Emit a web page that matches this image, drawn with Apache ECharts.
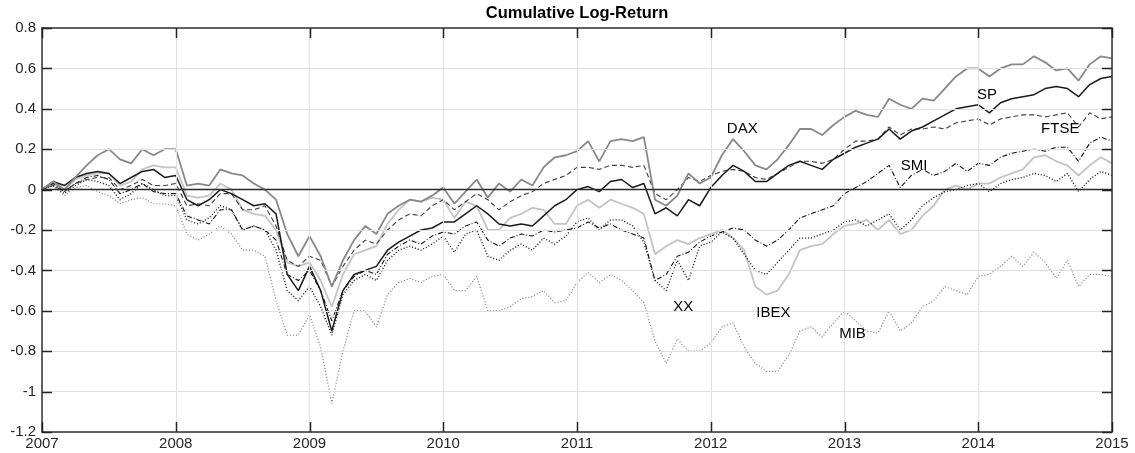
<!DOCTYPE html>
<html><head><meta charset="utf-8">
<script src="https://cdn.jsdelivr.net/npm/echarts@6/dist/echarts.min.js"></script>
<style>html,body{margin:0;padding:0;background:#fff}#c{width:1135px;height:453px}</style>
</head><body><div id="c"></div>
<script>
// ---- data (cumulative log-return, sampled at the start of each month, Jan 2007 .. Jan 2015) ----
const START_YEAR = 2007, END_YEAR = 2015, STEPS_PER_YEAR = 12;
const TITLE = 'Cumulative Log-Return';
const X_TICKS = [2007, 2008, 2009, 2010, 2011, 2012, 2013, 2014, 2015];
const Y_TICKS = [-1.2, -1, -0.8, -0.6, -0.4, -0.2, 0, 0.2, 0.4, 0.6, 0.8];

const DAX = [
  0.00, 0.04, 0.00, 0.06, 0.12, 0.17, 0.20, 0.15, 0.13, 0.20, 0.17, 0.20,
  0.20, 0.02, 0.03, 0.02, 0.10, 0.08, 0.07, 0.03, 0.00, -0.05, -0.22, -0.33,
  -0.23, -0.33, -0.48, -0.35, -0.25, -0.18, -0.22, -0.12, -0.08, -0.05, -0.06, -0.03,
  0.01, -0.07, -0.01, 0.05, -0.04, 0.03, -0.01, 0.05, 0.02, 0.11, 0.16, 0.17,
  0.19, 0.24, 0.14, 0.24, 0.25, 0.24, 0.26, -0.05, -0.08, -0.03, 0.08, 0.03,
  0.06, 0.17, 0.25, 0.19, 0.12, 0.10, 0.15, 0.22, 0.30, 0.30, 0.27, 0.32,
  0.36, 0.39, 0.37, 0.36, 0.45, 0.42, 0.40, 0.45, 0.44, 0.50, 0.56, 0.60,
  0.60, 0.56, 0.60, 0.62, 0.62, 0.66, 0.63, 0.59, 0.60, 0.54, 0.62, 0.66,
  0.65
];
const SP = [
  0.00, 0.04, 0.02, 0.06, 0.08, 0.09, 0.08, 0.03, 0.06, 0.09, 0.10, 0.06,
  0.07, -0.05, -0.08, -0.05, 0.00, -0.02, -0.05, -0.08, -0.07, -0.12, -0.42, -0.50,
  -0.38, -0.50, -0.70, -0.50, -0.42, -0.40, -0.38, -0.30, -0.26, -0.23, -0.20, -0.19,
  -0.16, -0.16, -0.12, -0.08, -0.12, -0.17, -0.18, -0.17, -0.18, -0.13, -0.08, -0.05,
  0.00, 0.015, -0.01, 0.04, 0.05, 0.01, 0.03, -0.12, -0.09, -0.13, -0.05, -0.08,
  0.01, 0.07, 0.12, 0.09, 0.04, 0.04, 0.08, 0.12, 0.14, 0.12, 0.10, 0.15,
  0.18, 0.21, 0.23, 0.25, 0.30, 0.25, 0.29, 0.31, 0.34, 0.37, 0.40, 0.41,
  0.42, 0.38, 0.43, 0.45, 0.46, 0.47, 0.50, 0.51, 0.50, 0.46, 0.52, 0.55,
  0.56
];
const FTSE = [
  0.00, 0.02, -0.01, 0.03, 0.05, 0.06, 0.06, 0.00, 0.02, 0.05, 0.02, 0.02,
  0.03, -0.08, -0.07, -0.08, -0.02, -0.02, -0.10, -0.10, -0.08, -0.18, -0.35, -0.38,
  -0.33, -0.35, -0.48, -0.38, -0.30, -0.25, -0.27, -0.20, -0.15, -0.12, -0.13, -0.08,
  -0.05, -0.10, -0.06, -0.02, -0.05, -0.10, -0.06, -0.03, -0.01, 0.03, 0.05, 0.07,
  0.11, 0.11, 0.10, 0.12, 0.12, 0.11, 0.12, -0.02, -0.05, 0.00, 0.06, 0.04,
  0.07, 0.09, 0.10, 0.09, 0.06, 0.05, 0.08, 0.11, 0.14, 0.14, 0.13, 0.15,
  0.20, 0.24, 0.24, 0.25, 0.31, 0.27, 0.30, 0.30, 0.31, 0.30, 0.33, 0.34,
  0.35, 0.32, 0.35, 0.36, 0.37, 0.37, 0.36, 0.37, 0.38, 0.31, 0.38, 0.35,
  0.36
];
const SMI = [
  0.00, 0.03, -0.01, 0.03, 0.06, 0.07, 0.05, -0.02, 0.00, 0.03, -0.01, -0.02,
  -0.02, -0.13, -0.15, -0.17, -0.10, -0.10, -0.20, -0.18, -0.20, -0.25, -0.42, -0.45,
  -0.40, -0.50, -0.65, -0.50, -0.43, -0.40, -0.42, -0.32, -0.28, -0.25, -0.27, -0.23,
  -0.21, -0.22, -0.18, -0.16, -0.25, -0.28, -0.24, -0.22, -0.23, -0.20, -0.21, -0.20,
  -0.19, -0.16, -0.19, -0.17, -0.20, -0.22, -0.24, -0.45, -0.42, -0.33, -0.31, -0.26,
  -0.23, -0.21, -0.19, -0.20, -0.25, -0.28, -0.25, -0.20, -0.14, -0.12, -0.10, -0.08,
  -0.02, 0.01, 0.04, 0.08, 0.12, 0.01, 0.07, 0.10, 0.07, 0.09, 0.13, 0.09,
  0.13, 0.12, 0.16, 0.18, 0.19, 0.20, 0.19, 0.21, 0.21, 0.14, 0.23, 0.26,
  0.24
];
const IBEX = [
  0.00, 0.03, 0.00, 0.05, 0.07, 0.08, 0.08, 0.02, 0.04, 0.10, 0.12, 0.11,
  0.11, -0.03, -0.04, -0.03, 0.03, 0.00, -0.10, -0.12, -0.13, -0.20, -0.36, -0.38,
  -0.36, -0.45, -0.58, -0.42, -0.32, -0.30, -0.28, -0.17, -0.10, -0.05, -0.06, -0.04,
  -0.05, -0.14, -0.06, -0.08, -0.20, -0.20, -0.14, -0.12, -0.09, -0.10, -0.17, -0.17,
  -0.08, -0.05, -0.09, -0.05, -0.07, -0.09, -0.12, -0.32, -0.28, -0.25, -0.27, -0.24,
  -0.22, -0.20, -0.24, -0.30, -0.48, -0.52, -0.50, -0.42, -0.30, -0.28, -0.27, -0.22,
  -0.18, -0.17, -0.15, -0.20, -0.15, -0.22, -0.20, -0.13, -0.08, 0.00, 0.02, 0.00,
  0.03, 0.03, 0.06, 0.08, 0.10, 0.16, 0.17, 0.14, 0.12, 0.07, 0.12, 0.16,
  0.13
];
const XX = [
  0.00, 0.02, -0.02, 0.02, 0.05, 0.04, 0.02, -0.05, -0.02, 0.03, 0.00, -0.03,
  -0.03, -0.15, -0.17, -0.14, -0.08, -0.10, -0.20, -0.18, -0.20, -0.30, -0.50, -0.55,
  -0.48, -0.58, -0.72, -0.52, -0.45, -0.42, -0.45, -0.35, -0.30, -0.28, -0.30, -0.27,
  -0.23, -0.31, -0.22, -0.20, -0.33, -0.35, -0.30, -0.27, -0.30, -0.24, -0.27, -0.23,
  -0.16, -0.14, -0.20, -0.15, -0.15, -0.18, -0.26, -0.45, -0.50, -0.35, -0.45, -0.28,
  -0.26, -0.21, -0.24, -0.32, -0.40, -0.42, -0.36, -0.30, -0.24, -0.24, -0.22, -0.20,
  -0.16, -0.15, -0.18, -0.15, -0.12, -0.20, -0.15, -0.08, -0.04, -0.01, 0.00, 0.02,
  0.03, -0.01, 0.03, 0.05, 0.06, 0.08, 0.07, 0.04, 0.08, -0.01, 0.05, 0.09,
  0.07
];
const MIB = [
  0.00, 0.02, -0.03, 0.01, 0.02, -0.01, -0.03, -0.07, -0.05, -0.04, -0.07, -0.07,
  -0.08, -0.22, -0.25, -0.22, -0.18, -0.22, -0.30, -0.30, -0.33, -0.55, -0.72, -0.72,
  -0.62, -0.78, -1.06, -0.80, -0.60, -0.60, -0.68, -0.52, -0.46, -0.44, -0.46, -0.43,
  -0.42, -0.50, -0.50, -0.43, -0.60, -0.60, -0.58, -0.54, -0.53, -0.50, -0.56, -0.55,
  -0.46, -0.41, -0.46, -0.42, -0.45, -0.50, -0.56, -0.75, -0.86, -0.74, -0.80, -0.80,
  -0.76, -0.68, -0.66, -0.78, -0.86, -0.90, -0.90, -0.82, -0.70, -0.68, -0.73, -0.66,
  -0.60, -0.65, -0.70, -0.71, -0.60, -0.70, -0.66, -0.58, -0.55, -0.48, -0.50, -0.52,
  -0.43, -0.42, -0.38, -0.33, -0.38, -0.31, -0.36, -0.44, -0.35, -0.48, -0.42, -0.42,
  -0.43
];

// text annotations (name, anchor in data units: [year, value])
const LABELS = {
  DAX: [2012.12, 0.30], SP: [2013.99, 0.47], FTSE: [2014.47, 0.30], SMI: [2013.42, 0.12],
  XX: [2011.72, -0.58], IBEX: [2012.34, -0.61], MIB: [2012.96, -0.715]
};

// ---- styles ----
const FONT = '"Liberation Sans", Arial, Helvetica, sans-serif';
const AX = '#262626';
const TICK_LEN = 10;
const STYLE = {
  IBEX: { color: '#c4c4c4', width: 1.8, type: 'solid' },
  MIB:  { color: '#7a7a7a', width: 1.2, type: [1, 2] },
  XX:   { color: '#141414', width: 1.4, type: [1, 2] },
  SMI:  { color: '#141414', width: 1.1, type: [5, 2, 1, 2] },
  FTSE: { color: '#404040', width: 1.1, type: [5, 3] },
  SP:   { color: '#1a1a1a', width: 1.5, type: 'solid' },
  DAX:  { color: '#888888', width: 1.8, type: 'solid' }
};
const SERIES = { IBEX, MIB, XX, SMI, FTSE, SP, DAX };

const t = DAX.map((_, i) => START_YEAR + i / STEPS_PER_YEAR);

const chart = echarts.init(document.getElementById('c'), null, { renderer: 'canvas' });

const fmtY = v => String(Number(v.toFixed(1)));

const series = Object.keys(SERIES).map(name => ({
  name, type: 'line', showSymbol: false, symbol: 'none', animation: false, silent: true,
  xAxisIndex: 0, yAxisIndex: 0,
  data: t.map((x, i) => [x, SERIES[name][i]]),
  lineStyle: STYLE[name],
  markPoint: {
    symbol: 'circle', symbolSize: 0, silent: true, animation: false,
    label: { show: true, position: 'right', distance: 0, color: '#000', fontSize: 15, fontFamily: FONT, formatter: name },
    data: [{ coord: LABELS[name] }]
  }
}));
series.push({
  name: 'zero', type: 'line', data: [], silent: true, xAxisIndex: 0, yAxisIndex: 0, z: 3,
  markLine: { symbol: 'none', silent: true, animation: false, label: { show: false },
    lineStyle: { color: '#2a2a2a', width: 1.3, type: 'solid' }, data: [{ yAxis: 0 }] }
});

const axisBase = (pos, labels) => ({
  position: pos, z: 4,
  axisLine: { show: true, onZero: false, lineStyle: { color: '#333', width: 1.5 } },
  axisTick: { show: false },
  splitLine: { show: true, lineStyle: { color: '#e0e0e0', width: 1 } },
  axisLabel: labels || { show: false }
});
const X = { type: 'value', min: START_YEAR, max: END_YEAR, interval: 1 };
const Y = { type: 'value', min: -1.2, max: 0.8, interval: 0.2 };

chart.setOption({
  animation: false,
  backgroundColor: '#fff',
  grid: { left: 42, right: 23, top: 28, bottom: 21, containLabel: false, outerBoundsMode: 'none' },
  xAxis: [
    Object.assign({}, X, axisBase('bottom', { color: AX, fontSize: 15, fontFamily: FONT, margin: 4,
      showMinLabel: true, showMaxLabel: true, formatter: v => String(v) })),
    Object.assign({}, X, axisBase('top'), { splitLine: { show: false } })
  ],
  yAxis: [
    Object.assign({}, Y, axisBase('left', { color: AX, fontSize: 15, fontFamily: FONT, margin: 6,
      showMinLabel: true, showMaxLabel: true, formatter: fmtY })),
    Object.assign({}, Y, axisBase('right'), { splitLine: { show: false } })
  ],
  series
});

// title and inward tick marks (positioned through the chart's own scales)
const px = v => chart.convertToPixel({ xAxisIndex: 0 }, v);
const py = v => chart.convertToPixel({ yAxisIndex: 0 }, v);
const x0 = px(START_YEAR), x1 = px(END_YEAR), yTop = py(Y_TICKS[Y_TICKS.length - 1]), yBot = py(Y_TICKS[0]);
const tickStyle = { stroke: '#222', lineWidth: 1.5 };
const graphics = [{ type: 'text', id: 'title', x: (x0 + x1) / 2, y: 13, silent: true,
  style: { text: TITLE, font: 'bold 16.5px ' + FONT, fill: '#000', textAlign: 'center', textVerticalAlign: 'middle' } }];
X_TICKS.forEach((v, i) => {
  const x = Math.round(px(v)) + 0.5;
  graphics.push({ type: 'line', id: 'xb' + i, silent: true, z: 10, shape: { x1: x, y1: yBot, x2: x, y2: yBot - TICK_LEN }, style: tickStyle });
  graphics.push({ type: 'line', id: 'xt' + i, silent: true, z: 10, shape: { x1: x, y1: yTop, x2: x, y2: yTop + TICK_LEN }, style: tickStyle });
});
Y_TICKS.forEach((v, i) => {
  const y = Math.round(py(v)) + 0.5;
  graphics.push({ type: 'line', id: 'yl' + i, silent: true, z: 10, shape: { x1: x0, y1: y, x2: x0 + TICK_LEN, y2: y }, style: tickStyle });
  graphics.push({ type: 'line', id: 'yr' + i, silent: true, z: 10, shape: { x1: x1, y1: y, x2: x1 - TICK_LEN, y2: y }, style: tickStyle });
});
chart.setOption({ graphic: graphics });
</script></body></html>
